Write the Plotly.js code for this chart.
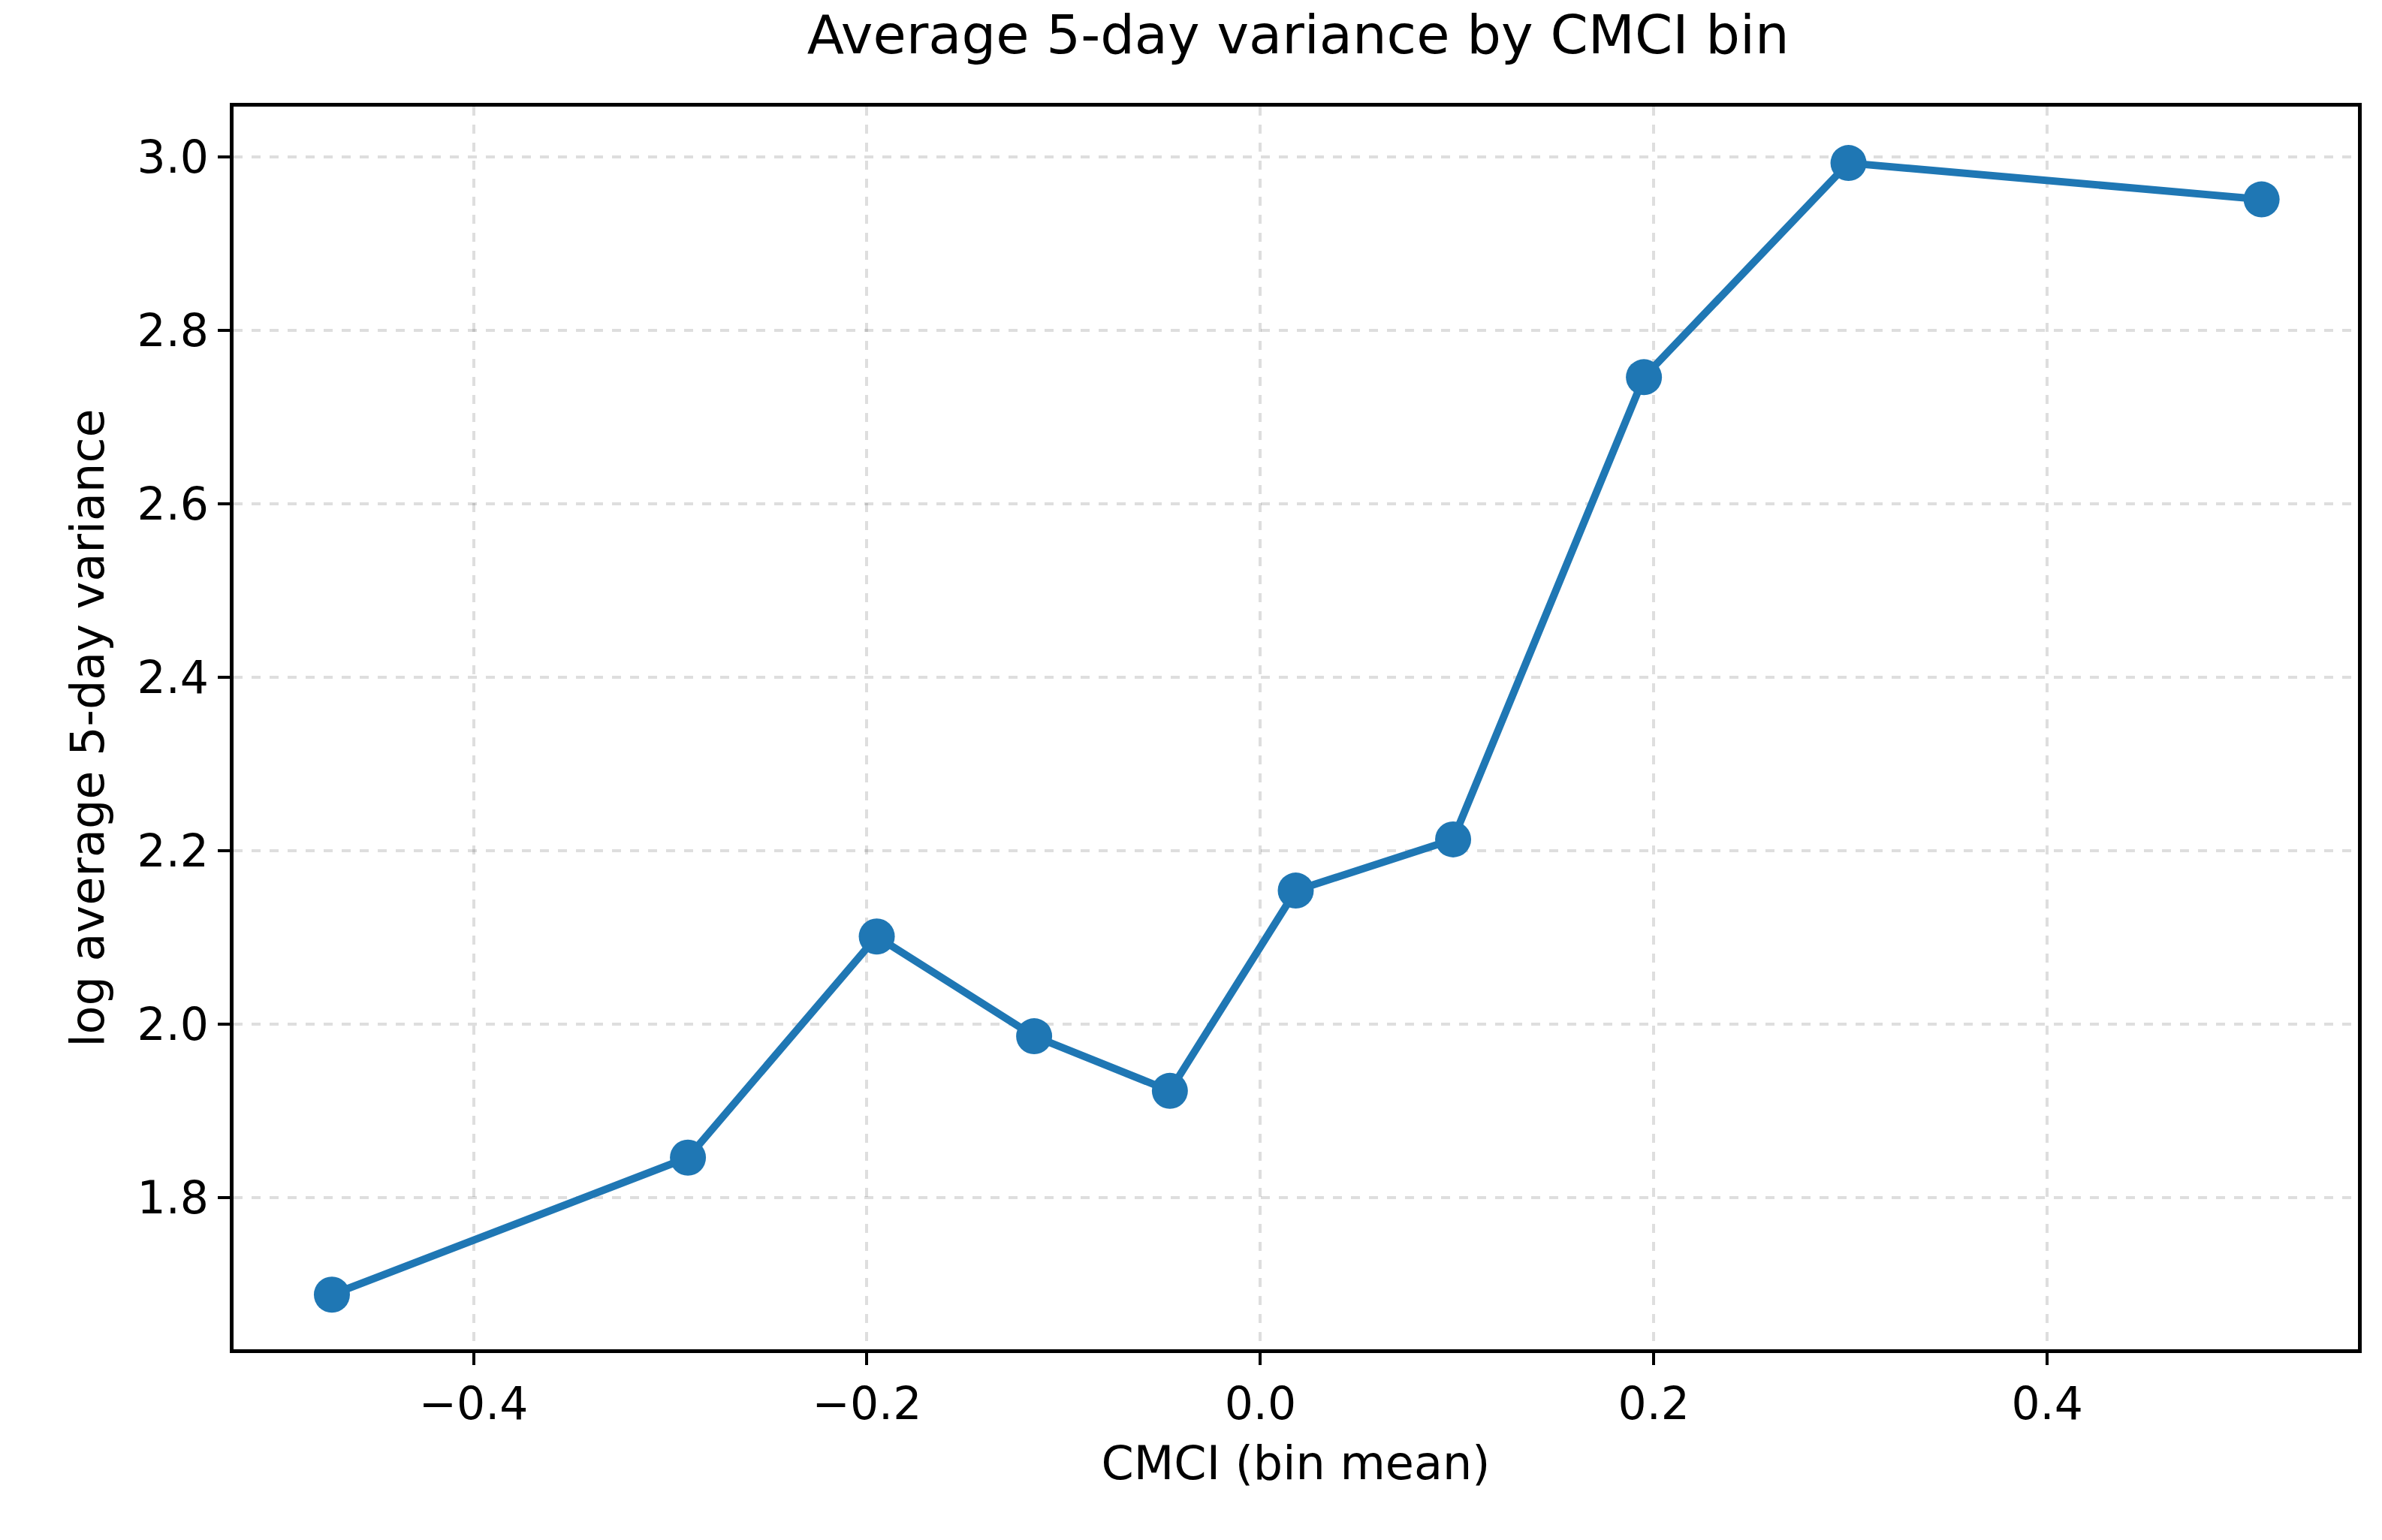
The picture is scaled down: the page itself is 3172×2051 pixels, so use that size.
<!DOCTYPE html>
<html><head><script src="https://cdn.plot.ly/plotly-3.0.1.min.js"></script>
<style>body{margin:0;background:#fff}</style></head><body>
<div id="c" style="width:3172px;height:2051px"></div>
<script>
const cmci = [-0.472, -0.291, -0.195, -0.115, -0.046, 0.018, 0.098, 0.195, 0.299, 0.509];
const logVar = [1.688, 1.846, 2.101, 1.986, 1.923, 2.154, 2.213, 2.746, 2.993, 2.951];
const xTicks = [-0.4, -0.2, 0.0, 0.2, 0.4];
const xTickText = ['−0.4', '−0.2', '0.0', '0.2', '0.4'];
const yTicks = [1.8, 2.0, 2.2, 2.4, 2.6, 2.8, 3.0];
const font = 'DejaVu Sans, sans-serif';
const ax = {
  showline: true, mirror: true, linecolor: '#000', linewidth: 5,
  ticks: 'outside', ticklen: 16, tickwidth: 4, tickcolor: '#000',
  showgrid: true, gridcolor: 'rgba(0,0,0,0.13)', griddash: 'dash', gridwidth: 4,
  zeroline: false, tickfont: {size: 60, color: '#000', family: font}
};
Plotly.newPlot('c', [{
  x: cmci, y: logVar, mode: 'lines+markers', type: 'scatter',
  line: {color: '#1f77b4', width: 10}, marker: {color: '#1f77b4', size: 48}
}], {
  width: 3172, height: 2051, paper_bgcolor: '#fff', plot_bgcolor: '#fff',
  margin: {l: 311, r: 32, t: 142, b: 254},
  title: {text: 'Average 5-day variance by CMCI bin', font: {size: 72, family: font, color: '#000'}, x: 0.545, xanchor: 'center', y: 0.99, yanchor: 'top'},
  xaxis: Object.assign({}, ax, {range: [-0.522, 0.558], tickvals: xTicks, ticktext: xTickText,
    title: {text: 'CMCI (bin mean)', font: {size: 62, family: font, color: '#000'}, standoff: 25}}),
  yaxis: Object.assign({}, ax, {range: [1.625, 3.058], tickvals: yTicks, tickformat: '.1f',
    title: {text: 'log average 5-day variance', font: {size: 62, family: font, color: '#000'}, standoff: 25}}),
  showlegend: false
}, {staticPlot: true});
</script></body></html>
